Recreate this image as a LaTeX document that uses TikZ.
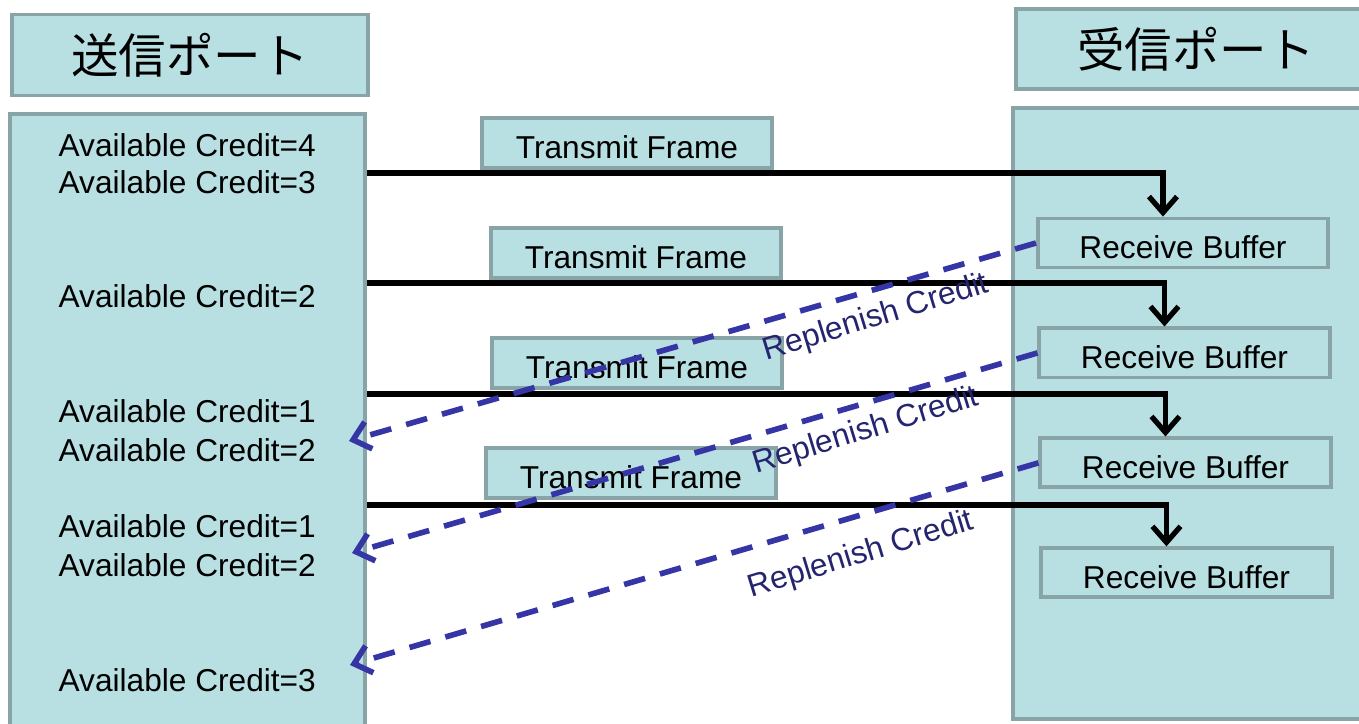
\documentclass[tikz,border=0pt]{standalone}
\usepackage{fontspec}
\setmainfont{Liberation Sans}
\newfontfamily\jpfont{Noto Sans CJK JP}
\usetikzlibrary{positioning,arrows.meta}
\definecolor{portfill}{HTML}{B8DFE2}
\definecolor{portline}{HTML}{88A4A7}
\definecolor{creditblue}{HTML}{3535A5}
\definecolor{creditnavy}{HTML}{25256F}
\newcommand{\avail}[1]{Available Credit=#1}
\newcommand{\port}[1]{{\jpfont\fontsize{13.5}{16}\selectfont #1}}
\tikzset{
  portbox/.style={draw=portline, fill=portfill, line width=1.1pt, inner sep=0pt},
  framebox/.style={portbox, minimum width=2.9cm, minimum height=0.5cm
                  ,text height=0.31cm, text depth=0pt},
  bufferbox/.style={portbox, minimum width=2.9cm, minimum height=0.49cm
                   ,text height=0.31cm, text depth=0pt},
  creditlabel/.style={anchor=west, inner sep=0pt},
  frameline/.style={line width=1.5pt, -{Straight Barb[length=1.6mm,width=2.8mm]}},
  replenish/.style={creditblue, line width=1.6pt, dash pattern=on 6.2pt off 4.4pt,
                    -{Straight Barb[length=1.6mm,width=2.8mm]}},
  replabel/.style={creditnavy, rotate=17, inner sep=0pt}
}

\begin{document}
\begin{tikzpicture}[x=0.01cm, y=-0.01cm, font=\fontsize{9}{11}\selectfont]
  \useasboundingbox (0,0) rectangle (1359,723);

  \node (00) [portbox, minimum width=3.56cm, minimum height=0.81cm] at (190,55) {\port{送信ポート}};
  \node (01) [portbox, minimum width=3.55cm, minimum height=6.3cm
             ,anchor=north west] at (8,112) {};
  %% sender side

  \node (20) [portbox, minimum width=3.6cm, minimum height=0.8cm
             ,anchor=north west] at (1014,7) {\port{受信ポート}};
  \node (21) [portbox, minimum width=3.6cm, minimum height=6.11cm
             ,anchor=north west] at (1011,106) {};
  %% receiver side

  \node (10) [framebox] at (627,143) {Transmit Frame};
  \node (11) [framebox] at (636,253) {Transmit Frame};
  \node (12) [framebox] at (637,363) {Transmit Frame};
  \node (13) [framebox] at (631,473) {Transmit Frame};

  \node (30) [bufferbox] at (1183,243) {Receive Buffer};
  \node (31) [bufferbox, below=0.57cm of 30, xshift=0.015cm] {Receive Buffer};
  \node (32) [bufferbox, below=0.57cm of 31, xshift=0.01cm]  {Receive Buffer};
  \node (33) [bufferbox, below=0.57cm of 32, xshift=0.01cm]  {Receive Buffer};

  \foreach \n/\y/\v in {0/145/4, 1/182/3, 2/296/2, 3/411/1,
                        4/450/2, 5/526/1, 6/565/2, 7/680/3}
    \node (4\n) [creditlabel] at (58,\y) {\avail{\v}};

  \coordinate (a0) at (349,441);
  \coordinate (a1) at (352,553);
  \coordinate (a2) at (350,665);

  \draw[frameline] (01.east |- 10.south) ++(0,3) -| ([xshift=-0.2cm]30.north);
  \draw[frameline] (01.east |- 11.south) ++(0,3) -| ([xshift=-0.2cm]31.north);
  \draw[frameline] (01.east |- 12.south) ++(0,4) -| ([xshift=-0.2cm]32.north);
  \draw[frameline] (01.east |- 13.south) ++(0,5) -| ([xshift=-0.2cm]33.north);

  \draw[replenish] (30.west) -- (a0);
  \draw[replenish] (31.west) -- (a1);
  \draw[replenish] (32.west) -- (a2);

  \node (50) [replabel] at (876,318) {Replenish Credit};
  \node (51) [replabel] at (866,431) {Replenish Credit};
  \node (52) [replabel] at (861,555) {Replenish Credit};
\end{tikzpicture}
\end{document}
